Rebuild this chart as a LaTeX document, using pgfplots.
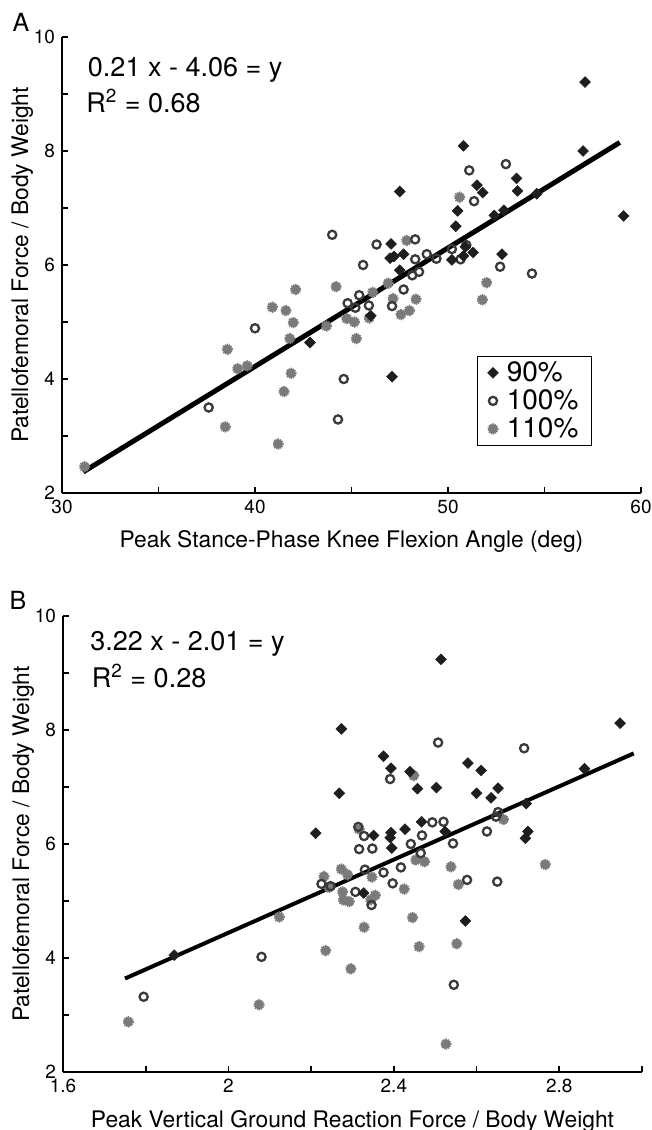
\documentclass[border=0pt]{standalone}
\usepackage{fontspec}
\setmainfont{TeX Gyre Heros}
\usepackage{pgfplots}
\pgfplotsset{compat=1.18}

\definecolor{dia}{HTML}{1E1E1E}
\definecolor{ring}{HTML}{3A3A3A}
\definecolor{ast}{HTML}{7A7A7A}

\pgfplotsset{
  panel/.style={
    width=289.5pt, height=228pt, scale only axis,
    axis x line*=bottom, axis y line*=left,
    axis line style={-, line width=0.9pt},
    tick style={line width=0.9pt, black},
    major tick length=3pt, minor tick length=3pt,
    tick align=inside,
    ymin=2, ymax=10, ytick={2,4,6,8,10}, minor ytick={3,5,7,9},
    tick label style={font=\fontsize{9.5}{11}\selectfont},
    /pgf/number format/assume math mode=true,
    ylabel={Patellofemoral Force / Body Weight},
    every axis y label/.style={at={(axis description cs:-0.0587,0.5)}, rotate=90, anchor=base, font=\fontsize{11.4}{13}\selectfont},
    every axis x label/.style={at={(axis description cs:0.5,-0.1206)}, anchor=base, font=\fontsize{11.4}{13}\selectfont},
    clip=false,
  },
  p90/.style={only marks, mark=square*, mark size=1.9pt, mark options={rotate=45, fill=dia, draw=dia, line width=0.3pt}},
  p100/.style={only marks, mark=o, mark size=2.05pt, mark options={draw=ring, line width=1.15pt}},
  p110/.style={only marks, mark=*, mark size=2.4pt, mark options={fill=ast, draw=ast, line width=0.9pt, dash pattern=on 0.6pt off 0.5pt}},
}

\begin{document}
\begin{tikzpicture}
\useasboundingbox (-31pt,-318.5pt) rectangle (295pt,246.5pt);

% Panel A
\begin{axis}[panel,
    xmin=30, xmax=60, xtick={30,40,50,60}, minor xtick={35,45,55},
    xlabel={Peak Stance-Phase Knee Flexion Angle (deg)},
    reverse legend, legend cell align=left,
    legend image code/.code={\path[draw=none] (0pt,0pt) -- (6.7pt,0pt); \draw[#1] plot coordinates {(1.4pt,0pt)};},
    legend style={at={(0.7168,0.3004)}, anchor=north west, draw=black, line width=0.6pt,
      inner xsep=5pt, inner ysep=0.8pt, row sep=-0.6pt,
      nodes={font=\fontsize{14}{15.5}\selectfont, inner sep=1.6pt}},
  ]
  % 110%
  \addplot[p110] coordinates {
    (31.17,2.46) (38.57,4.52) (39.1,4.18) (39.6,4.23) (38.46,3.16) (41.2,2.86)
    (41.5,3.78) (41.87,4.10) (41.8,4.71) (41.98,4.99) (41.6,5.20) (40.9,5.26)
    (42.1,5.57) (43.7,4.93) (44.2,5.62) (44.75,5.06) (45.15,5.0) (45.25,4.71)
    (46.1,5.52) (47.15,5.41) (46.9,5.68) (47.56,5.13) (48.0,5.20) (48.34,5.40)
    (52.0,5.69) (51.78,5.39) (50.6,7.19) (47.86,6.43) (45.92,5.07)
  };
  \addlegendentry{110\%}
  % 100%
  \addplot[p100] coordinates {
    (44.0,6.53) (46.3,6.36) (45.6,6.0) (48.3,6.45) (51.1,7.66) (53.0,7.77)
    (51.35,7.12) (48.3,6.10) (48.9,6.19) (49.4,6.11) (50.2,6.28) (50.65,6.10)
    (50.95,6.35) (52.7,5.97) (54.35,5.85) (48.5,5.88) (48.15,5.82) (40.0,4.89)
    (37.6,3.50) (44.6,4.0) (44.3,3.29) (47.7,5.57) (47.1,5.28) (45.9,5.29)
    (45.4,5.47) (44.8,5.33) (45.2,5.25)
  };
  \addlegendentry{100\%}
  % 90%
  \addplot[p90] coordinates {
    (57.1,9.21) (50.8,8.09) (57.0,8.00) (47.5,7.29) (53.55,7.52) (53.6,7.30)
    (51.5,7.40) (51.8,7.27) (54.6,7.25) (50.5,6.95) (50.4,6.68) (52.4,6.87)
    (52.9,6.96) (47.05,6.37) (47.7,6.19) (47.0,6.12) (47.2,6.15) (47.5,5.91)
    (46.0,5.11) (50.2,6.09) (50.9,6.32) (51.3,6.22) (50.8,6.16) (52.8,6.19)
    (59.1,6.86) (42.85,4.64) (47.1,4.04)
  };
  \addlegendentry{90\%}
  % regression line
  \addplot[black, line width=2.5pt, forget plot] coordinates {(31.1,2.37) (58.9,8.15)};

  \node[anchor=base west, font=\fontsize{13.5}{15}\selectfont] at (axis cs:30.98,9.30) {0.21 x - 4.06 = y};
  \node[anchor=base west, font=\fontsize{13.5}{15}\selectfont] at (axis cs:30.9,8.67) {R\textsuperscript{2} = 0.68};
  \node[font=\fontsize{12.5}{14}\selectfont] at (axis description cs:-0.0708,1.0329) {A};
\end{axis}

% Panel B
\begin{axis}[panel, at={(0.5pt,-289.5pt)},
    xmin=1.6, xmax=3.0, xtick={1.6,2,2.4,2.8}, minor xtick={1.8,2.2,2.6,3.0},
    xticklabels={1.6,2,2.4,2.8},
    xlabel={Peak Vertical Ground Reaction Force / Body Weight},
  ]
  % 110%
  \addplot[p110] coordinates {
    (1.758,2.88) (2.074,3.18) (2.123,4.72) (2.235,4.13) (2.231,5.43) (2.243,5.24)
    (2.526,2.49) (2.296,3.81) (2.328,4.54) (2.445,4.71) (2.461,4.20) (2.552,4.25)
    (2.766,5.64) (2.538,5.60) (2.556,5.29) (2.425,5.21) (2.347,5.42) (2.273,5.56)
    (2.288,5.46) (2.276,5.16) (2.292,4.99) (2.278,5.02) (2.355,5.10) (2.344,5.02)
    (2.453,5.72) (2.474,5.69) (2.448,7.20) (2.665,6.43) (2.316,6.26)
  };
  % 100%
  \addplot[p100] coordinates {
    (2.507,7.78) (2.715,7.68) (2.391,7.14) (2.314,6.30) (2.328,6.14) (2.316,5.91)
    (2.348,5.92) (2.441,6.00) (2.468,6.15) (2.493,6.38) (2.52,6.39) (2.543,6.01)
    (2.625,6.22) (2.652,6.56) (2.647,6.48) (2.33,5.55) (2.375,5.50) (2.417,5.59)
    (2.397,5.31) (2.225,5.30) (2.247,5.26) (2.307,5.16) (2.346,4.93) (2.465,5.84)
    (2.577,5.37) (2.65,5.34) (2.545,3.53) (1.795,3.32) (2.08,4.02)
  };
  % 90%
  \addplot[p90] coordinates {
    (2.514,9.24) (2.273,8.02) (2.947,8.12) (2.375,7.54) (2.393,7.33) (2.439,7.27)
    (2.579,7.42) (2.611,7.29) (2.861,7.32) (2.268,6.89) (2.457,6.97) (2.503,6.99)
    (2.60,6.89) (2.652,6.98) (2.635,6.81) (2.72,6.71) (2.724,6.22) (2.718,6.10)
    (2.467,6.39) (2.427,6.26) (2.393,6.20) (2.391,6.11) (2.351,6.15) (2.524,6.22)
    (2.395,5.93) (2.211,6.19) (2.327,5.14) (2.573,4.65) (1.869,4.05)
  };
  % regression line
  \addplot[black, line width=2pt] coordinates {(1.75,3.64) (2.98,7.59)};

  \node[anchor=base west, font=\fontsize{13.5}{15}\selectfont] at (axis cs:1.649,9.39) {3.22 x - 2.01 = y};
  \node[anchor=base west, font=\fontsize{13.5}{15}\selectfont] at (axis cs:1.653,8.74) {R\textsuperscript{2} = 0.28};
  \node[font=\fontsize{12.5}{14}\selectfont] at (axis description cs:-0.0777,1.035) {B};
\end{axis}
\end{tikzpicture}
\end{document}
